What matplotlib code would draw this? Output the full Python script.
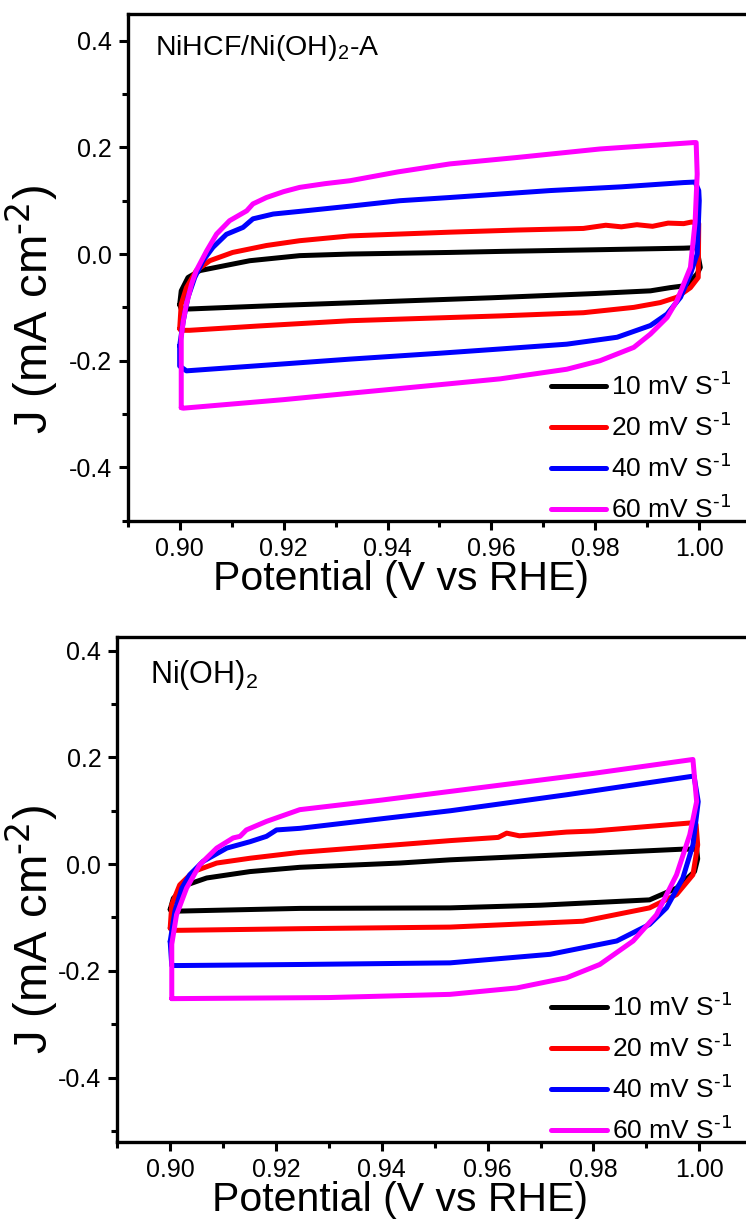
import matplotlib
matplotlib.use("Agg")
import matplotlib.pyplot as plt
from matplotlib.ticker import MultipleLocator, FormatStrFormatter

plt.rcParams['font.family'] = ['Liberation Sans', 'DejaVu Sans']
plt.rcParams['mathtext.default'] = 'regular'
plt.rcParams['axes.unicode_minus'] = False

# ---- data (E in V vs RHE, J in mA cm-2) ----
labels = [r"10 mV S$^{\text{-1}}$", r"20 mV S$^{\text{-1}}$", r"40 mV S$^{\text{-1}}$", r"60 mV S$^{\text{-1}}$"]
colors = ["#000000", "#ff0000", "#0000ff", "#ff00ff"]

# panel a: NiHCF/Ni(OH)2-A
e_a10 = [0.9000, 0.9003, 0.9016, 0.9039, 0.9135, 0.9231, 0.9328, 0.952, 0.962, 0.980, 0.997, 0.9995,
         1.0002, 0.9996, 0.9976, 0.9944, 0.9906, 0.980, 0.960, 0.940, 0.920, 0.9019, 0.9003, 0.9000]
j_a10 = [-0.095, -0.069, -0.044, -0.031, -0.0125, -0.003, 0.000, 0.003, 0.005, 0.008, 0.011, 0.012,
         -0.025, -0.037, -0.059, -0.063, -0.069, -0.074, -0.082, -0.089, -0.096, -0.103, -0.103, -0.095]
e_a20 = [0.9000, 0.9003, 0.9013, 0.9032, 0.9058, 0.9102, 0.9167, 0.9231, 0.9328, 0.952, 0.965, 0.9777,
         0.982, 0.985, 0.988, 0.991, 0.994, 0.997, 0.9985, 0.9999, 0.9998, 0.9983, 0.9957, 0.9925, 0.9874,
         0.9777, 0.9617, 0.9328, 0.915, 0.9019, 0.9002, 0.9000]
j_a20 = [-0.14, -0.094, -0.063, -0.031, -0.0125, 0.003, 0.016, 0.025, 0.034, 0.041, 0.045, 0.048,
         0.054, 0.051, 0.055, 0.052, 0.058, 0.057, 0.060, 0.057, -0.044, -0.063, -0.081, -0.091, -0.100,
         -0.110, -0.116, -0.125, -0.135, -0.143, -0.143, -0.14]
e_a40 = [0.9000, 0.9007, 0.9016, 0.9029, 0.9045, 0.9064, 0.9090, 0.9122, 0.9141, 0.918, 0.9231, 0.933,
         0.9424, 0.952, 0.9713, 0.985, 0.997, 0.9992, 0.9999, 1.0000, 0.9996, 0.9983, 0.9964, 0.9938,
         0.9906, 0.9842, 0.9745, 0.9617, 0.9500, 0.9328, 0.9200, 0.9013, 0.9000, 0.9000]
j_a40 = [-0.172, -0.125, -0.081, -0.044, -0.0125, 0.0125, 0.037, 0.05, 0.066, 0.075, 0.080, 0.090,
         0.100, 0.106, 0.119, 0.126, 0.134, 0.135, 0.119, 0.100, 0.000, -0.0375, -0.081, -0.1125,
         -0.134, -0.156, -0.169, -0.178, -0.186, -0.197, -0.206, -0.219, -0.21, -0.172]
e_a60 = [0.9003, 0.9003, 0.9007, 0.9013, 0.9023, 0.9032, 0.9052, 0.9071, 0.9096, 0.9129, 0.9141, 0.9167,
         0.9200, 0.9231, 0.9280, 0.9328, 0.9420, 0.952, 0.9649, 0.9809, 0.9989, 0.9994, 0.9996, 0.9992,
         0.9983, 0.9957, 0.9938, 0.9906, 0.9874, 0.9809, 0.9745, 0.9681, 0.9617, 0.95, 0.9328, 0.92,
         0.9007, 0.9003]
j_a60 = [-0.288, -0.156, -0.125, -0.094, -0.056, -0.031, 0.006, 0.0375, 0.0625, 0.081, 0.094, 0.106,
         0.117, 0.125, 0.132, 0.1375, 0.154, 0.169, 0.181, 0.197, 0.209, 0.209, 0.15, 0.06,
         -0.025, -0.0875, -0.119, -0.150, -0.175, -0.200, -0.216, -0.225, -0.234, -0.245, -0.261, -0.273,
         -0.289, -0.288]

# panel b: Ni(OH)2
e_b10 = [0.9000, 0.9006, 0.9031, 0.9069, 0.9151, 0.9245, 0.9434, 0.9529, 0.975, 0.9969, 0.9995, 0.9997,
         0.9991, 0.9957, 0.9906, 0.9700, 0.9529, 0.9245, 0.9018, 0.9003, 0.9000]
j_b10 = [-0.085, -0.064, -0.039, -0.026, -0.014, -0.006, 0.002, 0.008, 0.018, 0.028, 0.028, 0.010,
         -0.014, -0.045, -0.067, -0.077, -0.082, -0.083, -0.088, -0.088, -0.085]
e_b20 = [0.9000, 0.9003, 0.9018, 0.9044, 0.9088, 0.9151, 0.9245, 0.9400, 0.9529, 0.9620, 0.9636, 0.9660,
         0.9700, 0.9749, 0.9800, 0.9982, 0.9994, 0.9997, 0.9988, 0.9957, 0.9906, 0.978, 0.9529, 0.9245,
         0.9020, 0.9003, 0.9000]
j_b20 = [-0.12, -0.076, -0.039, -0.014, 0.002, 0.011, 0.022, 0.034, 0.044, 0.050, 0.058, 0.053,
         0.056, 0.060, 0.062, 0.077, 0.074, 0.036, -0.020, -0.057, -0.082, -0.107, -0.118, -0.121,
         -0.124, -0.124, -0.12]
e_b40 = [0.9000, 0.9009, 0.9022, 0.9037, 0.9062, 0.9107, 0.9151, 0.9182, 0.9201, 0.9245, 0.940, 0.953,
         0.975, 0.999, 0.9998, 0.9988, 0.9969, 0.9938, 0.9906, 0.9844, 0.9718, 0.9529, 0.925, 0.9020,
         0.9003, 0.9000]
j_b40 = [-0.145, -0.088, -0.045, -0.020, 0.005, 0.030, 0.042, 0.052, 0.064, 0.067, 0.085, 0.100,
         0.130, 0.165, 0.117, 0.036, -0.026, -0.082, -0.113, -0.144, -0.169, -0.185, -0.188, -0.19,
         -0.19, -0.145]
e_b60 = [0.9003, 0.9003, 0.9012, 0.9031, 0.9056, 0.9088, 0.9119, 0.9132, 0.9144, 0.9182, 0.9245, 0.940,
         0.960, 0.980, 0.9988, 0.9995, 0.9982, 0.9957, 0.9919, 0.9875, 0.9812, 0.9749, 0.9655, 0.9529,
         0.930, 0.9006, 0.9003]
j_b60 = [-0.252, -0.150, -0.095, -0.045, -0.001, 0.030, 0.049, 0.052, 0.064, 0.080, 0.102, 0.120,
         0.145, 0.170, 0.196, 0.117, 0.055, -0.020, -0.095, -0.144, -0.188, -0.213, -0.232, -0.244,
         -0.250, -0.252, -0.252]

panels = [
    {"name": "NiHCF/Ni(OH)$_2$-A", "name_size": 20.5, "ylim": (-0.5, 0.45),
     "pos": [0.1712, 0.5770, 0.8358, 0.4116],
     "curves": [(e_a10, j_a10), (e_a20, j_a20), (e_a40, j_a40), (e_a60, j_a60)],
     "text_xy": (0.044, 0.933), "ylab_xy": (-0.108, 0.416), "xlab_xy": (0.438, -0.078)},
    {"name": "Ni(OH)$_2$", "name_size": 22, "ylim": (-0.52, 0.425),
     "pos": [0.1572, 0.07255, 0.8511, 0.4098],
     "curves": [(e_b10, j_b10), (e_b20, j_b20), (e_b40, j_b40), (e_b60, j_b60)],
     "text_xy": (0.0515, 0.925), "ylab_xy": (-0.090, 0.42), "xlab_xy": (0.445, -0.077)},
]

fig = plt.figure(figsize=(7.46, 12.31), dpi=100)

for p in panels:
    ax = fig.add_axes(p["pos"])
    for (e, j), c, lab in zip(p["curves"], colors, labels):
        ax.plot(e, j, color=c, lw=3.6, label=lab, solid_joinstyle='round', solid_capstyle='round')

    ax.set_xlim(0.89, 1.01)
    ax.set_ylim(*p["ylim"])
    ax.xaxis.set_major_locator(MultipleLocator(0.02))
    ax.xaxis.set_minor_locator(MultipleLocator(0.01))
    ax.yaxis.set_major_locator(MultipleLocator(0.2))
    ax.yaxis.set_minor_locator(MultipleLocator(0.1))
    ax.xaxis.set_major_formatter(FormatStrFormatter('%.2f'))
    ax.yaxis.set_major_formatter(FormatStrFormatter('%.1f'))
    ax.tick_params(which='major', direction='out', length=6.5, width=2.2, labelsize=18, pad=5)
    ax.tick_params(which='minor', direction='out', length=4, width=2.2)
    for s in ax.spines.values():
        s.set_linewidth(2.4)

    ax.set_xlabel("Potential (V vs RHE)", fontsize=29.5)
    ax.xaxis.set_label_coords(*p["xlab_xy"])
    ax.set_ylabel(r"J (mA cm$^{\text{-2}}$)", fontsize=34)
    ax.yaxis.set_label_coords(*p["ylab_xy"])

    ax.text(p["text_xy"][0], p["text_xy"][1], p["name"], transform=ax.transAxes,
            fontsize=p["name_size"], ha='left', va='center')

    ax.legend(loc='lower right', bbox_to_anchor=(0.985, -0.026), frameon=False, fontsize=19,
              handlelength=2.1, handletextpad=0.2, labelspacing=0.5, borderaxespad=0.0)

fig.savefig("out.png", dpi=100)
